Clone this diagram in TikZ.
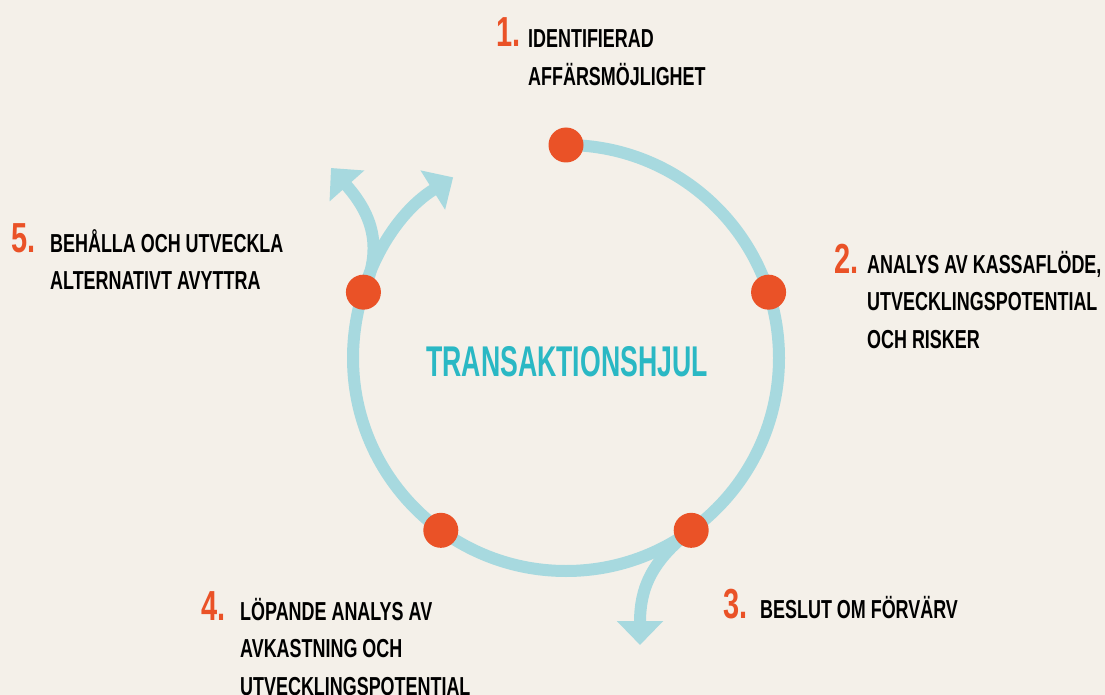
\documentclass[tikz,border=0pt]{standalone}
\usepackage{fontspec}
\usetikzlibrary{arrows.meta}
\newfontfamily\condfont[FakeStretch=0.69]{Liberation Sans}
\newfontfamily\titlefont[FakeStretch=0.62]{Liberation Sans}
\definecolor{bgcol}{HTML}{F4F0E9}
\definecolor{dotorange}{HTML}{EA5227}
\definecolor{wheelblue}{HTML}{A7D9DF}
\definecolor{teal}{HTML}{2AB8C4}
\pgfdeclarelayer{back}
\pgfsetlayers{back,main}
\begin{document}
\begin{tikzpicture}[x=1pt,y=1pt,
  wheel/.style={draw=wheelblue, line width=12pt},
  arrowtip/.style={-{Triangle[width=45pt,length=24pt]}},
  dot/.style={circle, fill=dotorange, minimum size=35pt, inner sep=0pt},
  num/.style={anchor=base east, inner sep=0pt, text=dotorange, font=\condfont\bfseries\fontsize{42}{42}\selectfont},
  lbl/.style={anchor=base west, inner sep=0pt, font=\condfont\bfseries\fontsize{26}{37.5}\selectfont}]
\useasboundingbox (0,0) rectangle (1105,-695);
\coordinate (c) at (566,-358);
\node[dot] (d1) at ([shift={(90:213)}]c) {};
\node[dot] (d2) at ([shift={(18:213)}]c) {};
\node[dot] (d3) at ([shift={(-54:213)}]c) {};
\node[dot] (d4) at ([shift={(-126:213)}]c) {};
\node[dot] (d5) at ([shift={(162:213)}]c) {};
\coordinate (e5) at (331,-168);
\coordinate (e3) at (640,-645);
\begin{pgfonlayer}{back}
\fill[bgcol] (0,0) rectangle (1105,-695);
\draw[wheel, arrowtip] (d1.center) arc[start angle=90, end angle=-238, radius=213];
\draw[wheel, arrowtip] (d5.center) .. controls (379,-255) and (379,-222) .. (e5);
\draw[wheel, arrowtip] (d3.center) .. controls (650,-562) and (640,-590) .. (e3);
\end{pgfonlayer}
% title
\node[anchor=base, inner sep=0pt, text=teal, font=\titlefont\bfseries\fontsize{43}{43}\selectfont] (title) at (567,-376) {TRANSAKTIONSHJUL};
% labels
\node[num] (n1) at (521,-47) {1.};
\node[lbl] (t1) at (528,-48) {\begin{tabular}[t]{@{}l@{}}IDENTIFIERAD\\AFFÄRSMÖJLIGHET\end{tabular}};
\node[num] (n2) at (859,-273) {2.};
\node[lbl] (t2) at (867,-273) {\begin{tabular}[t]{@{}l@{}}ANALYS AV KASSAFLÖDE,\\UTVECKLINGSPOTENTIAL\\OCH RISKER\end{tabular}};
\node[num] (n3) at (748,-618) {3.};
\node[lbl] (t3) at (760,-618) {BESLUT OM FÖRVÄRV};
\node[num] (n4) at (226,-620) {4.};
\node[lbl] (t4) at (240,-620) {\begin{tabular}[t]{@{}l@{}}LÖPANDE ANALYS AV\\AVKASTNING OCH\\UTVECKLINGSPOTENTIAL\end{tabular}};
\node[num] (n5) at (36,-252) {5.};
\node[lbl] (t5) at (50,-252) {\begin{tabular}[t]{@{}l@{}}BEHÅLLA OCH UTVECKLA\\ALTERNATIVT AVYTTRA\end{tabular}};
\end{tikzpicture}
\end{document}
